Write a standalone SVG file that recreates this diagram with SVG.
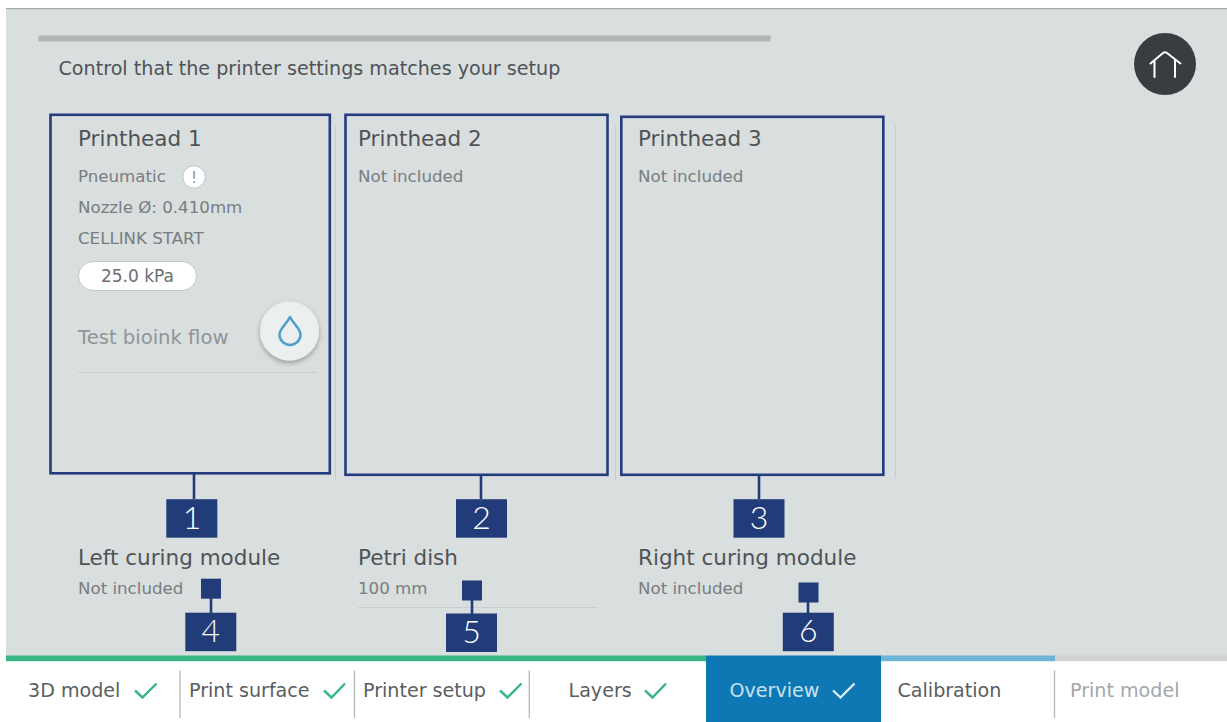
<svg xmlns="http://www.w3.org/2000/svg" width="1227" height="722" viewBox="0 0 1227 722">
<defs>
<filter id="shadow" x="-30%" y="-30%" width="160%" height="170%"><feDropShadow dx="0" dy="2.500" stdDeviation="2.800" flood-color="#000" flood-opacity="0.3"/></filter>
</defs>
<style>
text{font-family:"DejaVu Sans",Verdana,sans-serif}
.box{fill:none;stroke:#253b7d;stroke-width:2.6}
.sep{stroke:#c9cdce;stroke-width:1.2;fill:none}
.tag{fill:#213c78}
.num{font-family:"Lato","DejaVu Sans",sans-serif;font-weight:300;font-size:32px;fill:#fff;text-anchor:middle}
.conn{stroke:#213c78;stroke-width:2.6;fill:none}
.h{font-size:21.500px;fill:#4f5355}
.s{font-size:16.650px;fill:#787d80}
.nav{font-size:19.100px;fill:#5a5e61}
.chk{fill:none;stroke:#36b784;stroke-width:2.4}
.div{stroke:#b5b8b9;stroke-width:1.3}
</style>
<rect width="1227" height="722" fill="#fff"/>
<rect x="6" y="9" width="1221" height="647" fill="#d9dedf"/>
<rect x="6" y="8" width="1221" height="1.2" fill="#a5a8a8"/>
<rect x="38.500" y="35.500" width="732" height="6" fill="#b2b4b4"/>
<text x="58.500" y="75" font-size="19.150" fill="#4f5355">Control that the printer settings matches your setup</text>
<g id="home"><circle cx="1165" cy="64" r="31" fill="#3a3d3f"/><path d="M1150.500 63.500 L1163 53 Q1165 51.500 1167 53 L1180.500 63.500 M1154.500 60 V77 M1175 60 V77" fill="none" stroke="#fff" stroke-width="2" stroke-linecap="round"/></g>
<g id="separators">
<path class="sep" d="M335.500 126V480M615.500 126V480M895.500 126V478"/>
<path class="sep" d="M78 372.500H317M358 607.500H597"/>
</g>
<g id="printhead1">
<rect class="box" x="50.500" y="114.800" width="279.300" height="358.500"/>
<text class="h" x="78" y="146.200">Printhead 1</text>
<text class="s" x="78" y="182">Pneumatic</text>
<circle cx="194" cy="177" r="11.200" fill="#fff" stroke="#c4c7c8"/>
<text x="194" y="182.500" font-size="15" fill="#909496" text-anchor="middle">!</text>
<text class="s" x="78" y="213">Nozzle Ø: 0.410mm</text>
<text class="s" x="78" y="244">CELLINK START</text>
<rect x="78.500" y="261.500" width="118" height="29" rx="14.500" fill="#fff" stroke="#c4c7c8"/>
<text x="137.500" y="281.500" font-size="17" fill="#6a6e72" text-anchor="middle">25.0 kPa</text>
<text x="78" y="344" font-size="19.600" fill="#919597">Test bioink flow</text>
<circle cx="289.500" cy="331" r="29.500" fill="#ebefef" filter="url(#shadow)"/>
<path d="M290 317 C286 325 279.500 328.500 279.500 334.500 A10.500 10.500 0 0 0 300.500 334.500 C300.500 328.500 294 325 290 317Z" fill="none" stroke="#4e9fc9" stroke-width="2.600" stroke-linejoin="round"/>
</g>
<g id="printhead2">
<rect class="box" x="345.500" y="114.800" width="262" height="360"/>
<text class="h" x="358" y="146.200">Printhead 2</text>
<text class="s" x="358" y="182">Not included</text>
</g>
<g id="printhead3">
<rect class="box" x="621.300" y="116.800" width="262" height="358"/>
<text class="h" x="638" y="146.200">Printhead 3</text>
<text class="s" x="638" y="182">Not included</text>
</g>
<g id="left-curing"><text class="h" x="78" y="565">Left curing module</text><text class="s" x="78" y="594">Not included</text></g>
<g id="petri"><text class="h" x="358" y="565">Petri dish</text><text class="s" x="358" y="594">100 mm</text></g>
<g id="right-curing"><text class="h" x="638" y="565">Right curing module</text><text class="s" x="638" y="594">Not included</text></g>
<g id="connectors">
<path class="conn" d="M194 474V499M481 476V499M759 476V499M211 598V613M472 600V614M808 602V613"/>
</g>
<g id="tag1"><rect class="tag" x="166.300" y="499.200" width="51" height="38.500"/><text class="num" x="192" y="528.500">1</text></g>
<g id="tag2"><rect class="tag" x="456" y="499.200" width="51" height="38.500"/><text class="num" x="481.500" y="528.500">2</text></g>
<g id="tag3"><rect class="tag" x="733.500" y="499.200" width="51" height="38.500"/><text class="num" x="759" y="528.500">3</text></g>
<g id="tag4"><rect class="tag" x="201" y="578.700" width="20" height="20"/><rect class="tag" x="185.300" y="612.700" width="51" height="38.500"/><text class="num" x="210.800" y="642">4</text></g>
<g id="tag5"><rect class="tag" x="462" y="580.500" width="20" height="20"/><rect class="tag" x="446" y="613.500" width="51" height="38.500"/><text class="num" x="471.500" y="642.500">5</text></g>
<g id="tag6"><rect class="tag" x="798.500" y="582.500" width="20" height="20"/><rect class="tag" x="782.800" y="612.700" width="51" height="38.500"/><text class="num" x="808.300" y="642">6</text></g>
<g id="nav">
<rect x="6" y="655.500" width="700" height="5.700" fill="#36b784"/>
<rect x="881" y="655.500" width="174" height="5.700" fill="#6eb4d6"/>
<rect x="1055" y="655.500" width="172" height="5.700" fill="#d0d1d1"/>
<rect x="706" y="655.500" width="175" height="66.500" fill="#0e78b4"/>
<path class="div" d="M180 670.500V718M354.500 670.500V718M529.300 670.500V718M1054.500 670.500V718"/>
<text class="nav" x="28" y="697">3D model</text><path class="chk" d="M135 690.500L142.500 697.500L156.500 683.500"/>
<text class="nav" x="189" y="697">Print surface</text><path class="chk" d="M324 690.500L331.500 697.500L345 683.500"/>
<text class="nav" x="363" y="697">Printer setup</text><path class="chk" d="M500 690.500L507.500 697.500L521.500 683.500"/>
<text class="nav" x="568.500" y="697">Layers</text><path class="chk" d="M645 690.500L652.500 697.500L666 683.500"/>
<text x="729.500" y="697" font-size="19.100" fill="#c9e2f0">Overview</text><path d="M833 690.500L840.500 697.500L854.500 683.500" fill="none" stroke="#e6f1f7" stroke-width="2.200"/>
<text class="nav" x="897.500" y="697">Calibration</text>
<text x="1070" y="697" font-size="19.100" fill="#a3a7a9">Print model</text>
</g>
</svg>
